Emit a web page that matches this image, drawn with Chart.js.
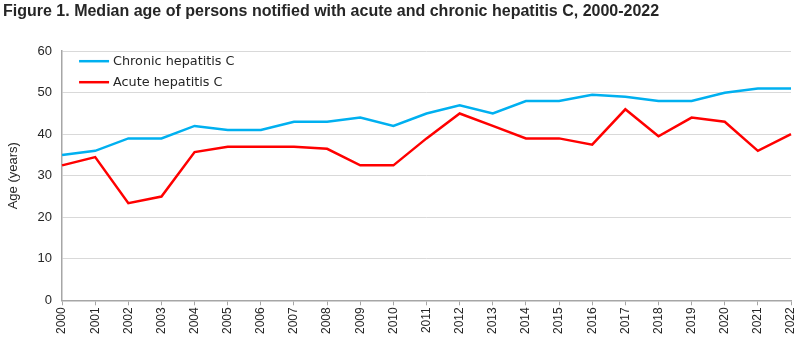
<!DOCTYPE html>
<html>
<head>
<meta charset="utf-8">
<script src="https://cdn.jsdelivr.net/npm/chart.js@4/dist/chart.umd.min.js"></script>
<style>
  html, body { margin: 0; padding: 0; background: #fff; }
  #wrap { width: 800px; height: 346px; }
</style>
</head>
<body>
<div id="wrap"><canvas id="ageChart"></canvas></div>
<script>
const years = ['2000', '2001', '2002', '2003', '2004', '2005', '2006', '2007', '2008', '2009', '2010',
  '2011', '2012', '2013', '2014', '2015', '2016', '2017', '2018', '2019', '2020', '2021', '2022'];
const chronicAge = [35, 36, 39, 39, 42, 41, 41, 43, 43, 44, 42, 45, 47, 45, 48, 48, 49.5, 49, 48, 48, 50, 51, 51];
const acuteAge = [32.5, 34.5, 23.4, 25, 35.7, 37, 37, 37, 36.5, 32.5, 32.5, 39, 45, 42, 39, 39, 37.5, 46, 39.5, 44, 43, 36, 40];
const yTicks = [0, 10, 20, 30, 40, 50, 60];

const fontFamily = "'Liberation Sans', 'DejaVu Sans', sans-serif";

// legend drawn inside the plot, top left, one entry per row
const innerLegend = {
  id: 'innerLegend',
  afterDraw(chart) {
    const c = chart.ctx;
    const area = chart.chartArea;
    c.save();
    c.font = "12.8px 'DejaVu Sans', sans-serif";
    c.textBaseline = 'middle';
    chart.data.datasets.forEach((ds, i) => {
      const y = area.top + 10 + i * 21;
      c.strokeStyle = ds.borderColor;
      c.lineWidth = 2.5;
      c.beginPath();
      c.moveTo(area.left + 17, y);
      c.lineTo(area.left + 47, y);
      c.stroke();
      c.fillStyle = '#262626';
      c.fillText(ds.label, area.left + 51, y);
    });
    c.restore();
  }
};

new Chart(document.getElementById('ageChart'), {
  type: 'line',
  data: {
    labels: years,
    datasets: [
      {
        label: 'Chronic hepatitis C',
        data: chronicAge,
        borderColor: '#00b0f0',
        borderWidth: 2.5,
        pointRadius: 0,
        tension: 0
      },
      {
        label: 'Acute hepatitis C',
        data: acuteAge,
        borderColor: '#ff0000',
        borderWidth: 2.5,
        pointRadius: 0,
        tension: 0
      }
    ]
  },
  options: {
    responsive: true,
    maintainAspectRatio: false,
    animation: false,
    layout: { padding: { left: 3, right: 9, top: 2, bottom: 10 } },
    plugins: {
      legend: { display: false },
      tooltip: { enabled: false },
      title: {
        display: true,
        text: 'Figure 1. Median age of persons notified with acute and chronic hepatitis C, 2000-2022',
        align: 'start',
        color: '#262626',
        font: { family: fontFamily, size: 16, weight: 'bold' },
        padding: { top: 0, bottom: 30 }
      }
    },
    scales: {
      x: {
        offset: false,
        // let the last year sit close to the right edge
        afterFit(axis) { axis.paddingRight = 0; },
        grid: {
          display: true,
          drawOnChartArea: false,
          drawTicks: true,
          tickLength: 5,
          color: '#a6a6a6'
        },
        border: { color: '#a6a6a6', width: 1.5 },
        ticks: {
          maxRotation: 90,
          minRotation: 90,
          autoSkip: false,
          color: '#262626',
          padding: 2,
          font: { family: fontFamily, size: 12 }
        }
      },
      y: {
        min: 0,
        max: 60,
        afterBuildTicks(axis) { axis.ticks = yTicks.map(v => ({ value: v })); },
        grid: { color: '#d9d9d9', lineWidth: 1, drawTicks: false },
        border: { color: '#a6a6a6', width: 1.5 },
        ticks: {
          color: '#262626',
          padding: 10,
          font: { family: fontFamily, size: 13 }
        },
        title: {
          display: true,
          text: 'Age (years)',
          color: '#262626',
          font: { family: fontFamily, size: 13 },
          padding: { top: 3, bottom: 6 }
        }
      }
    }
  },
  plugins: [innerLegend]
});
</script>
</body>
</html>
